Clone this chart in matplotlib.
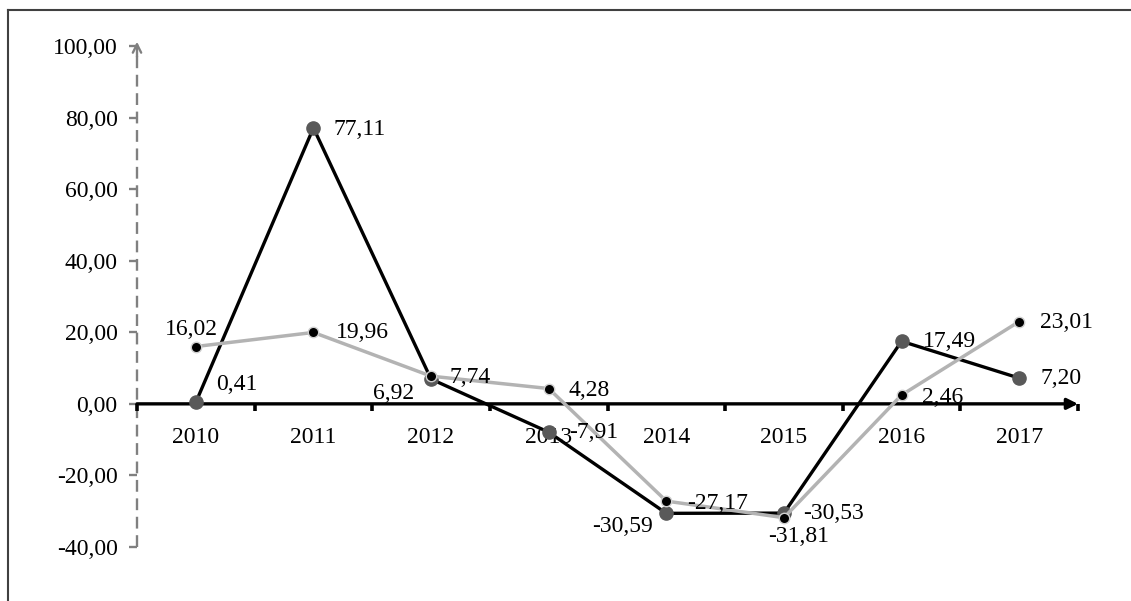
import matplotlib
matplotlib.use("Agg")
import matplotlib.pyplot as plt
from matplotlib.lines import Line2D

years = ["2010", "2011", "2012", "2013", "2014", "2015", "2016", "2017"]
series_dark = [0.41, 77.11, 6.92, -7.91, -30.59, -30.53, 17.49, 7.20]
series_light = [16.02, 19.96, 7.74, 4.28, -27.17, -31.81, 2.46, 23.01]
y_ticks = [-40, -20, 0, 20, 40, 60, 80, 100]

def fmt(v):
    return f"{v:.2f}".replace(".", ",")

plt.rcParams["font.family"] = ["Liberation Serif", "DejaVu Serif"]
FS = 17

W, H = 1131, 601
fig = plt.figure(figsize=(W / 100, H / 100), dpi=100)
fig.patch.set_facecolor("white")

# outer frame (top and left visible)
fig.add_artist(Line2D([8 / W, 1.0], [1 - 9.5 / H, 1 - 9.5 / H], color="#404040", lw=1.5))
fig.add_artist(Line2D([8 / W, 8 / W], [0, 1 - 9.5 / H], color="#404040", lw=1.5))

ax = fig.add_axes([137 / W, 54 / H, 941 / W, 501 / H])
ax.set_xlim(-0.5, len(years) - 0.5)
ax.set_ylim(-40, 100)
for s in ax.spines.values():
    s.set_visible(False)
ax.patch.set_visible(False)

# y axis: dashed grey with arrow
ax.plot([-0.5, -0.5], [-40, 99], color="#808080", lw=1.7, dashes=(5, 2.8),
        clip_on=False, zorder=1)
ax.annotate("", xy=(-0.5, 101.2), xytext=(-0.5, 97),
            arrowprops=dict(arrowstyle="->", color="#808080", lw=1.7,
                            mutation_scale=15, shrinkA=0, shrinkB=0),
            annotation_clip=False)
ax.set_yticks(y_ticks)
ax.set_yticklabels([fmt(v) for v in y_ticks], fontsize=FS)
ax.tick_params(axis="y", direction="out", length=6, width=1.7, color="#808080", pad=8)
ax.set_xticks([])

# x axis at zero with arrow
ax.annotate("", xy=(len(years) - 0.5, 0), xytext=(-0.5, 0),
            arrowprops=dict(arrowstyle="-|>", color="black", lw=2.4,
                            mutation_scale=16, shrinkA=0, shrinkB=0),
            annotation_clip=False, zorder=2)
bounds = [i - 0.5 for i in range(len(years) + 1)]
ax.plot(bounds, [0] * len(bounds), linestyle="none", marker=3, markersize=5,
        mew=2.6, color="black", clip_on=False, zorder=2)
for i, yr in enumerate(years):
    ax.annotate(yr, (i, 0), xytext=(0, -24), textcoords="offset points",
                ha="center", va="center", fontsize=FS)

xs = list(range(len(years)))
ax.plot(xs, series_dark, color="black", lw=2.4, marker="o", markersize=9.5,
        markerfacecolor="#595959", markeredgecolor="#595959", zorder=3,
        clip_on=False)
ax.plot(xs, series_light, color="#b3b3b3", lw=2.5, marker="o", markersize=7.5,
        markerfacecolor="black", markeredgecolor="#d0d0d0", markeredgewidth=1.0,
        zorder=4, clip_on=False)

# label placement (pixel offsets: dx, dy screen-down, alignment)
dark_pos = [("left", 20, -18), ("left", 20, 2), ("right", -17, 14), ("left", 20, 0),
            ("right", -13, 13), ("left", 19, 0), ("left", 21, 0), ("left", 21, 0)]
light_pos = [("center", -4, -17), ("left", 22, 0), ("left", 18, 1), ("left", 20, 2),
             ("left", 21, 2), ("center", 15, 19), ("left", 20, 2), ("left", 21, 1)]

for vals, pos in ((series_dark, dark_pos), (series_light, light_pos)):
    for i, (v, (ha, dx, dy)) in enumerate(zip(vals, pos)):
        ax.annotate(fmt(v), (i, v), xytext=(dx * 0.72, -dy * 0.72),
                    textcoords="offset points", ha=ha, va="center",
                    fontsize=FS, zorder=5, annotation_clip=False)

fig.savefig("out.png", dpi=100)
